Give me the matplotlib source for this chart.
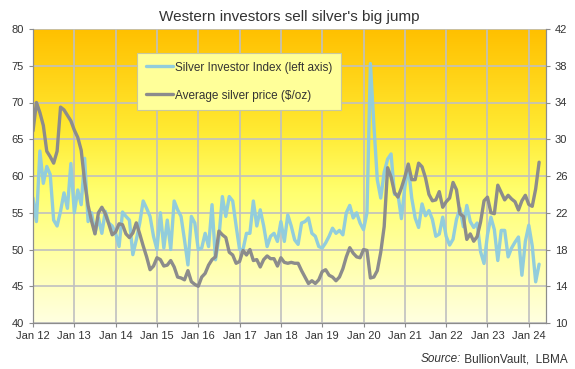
import numpy as np
import matplotlib
matplotlib.use("Agg")
import matplotlib.pyplot as plt
from matplotlib.colors import LinearSegmentedColormap

plt.rcParams['font.family'] = ['Liberation Sans', 'DejaVu Sans']

# --- Data: monthly, Jan 2012 .. Apr 2024 ---
tick_labels = ['Jan 12', 'Jan 13', 'Jan 14', 'Jan 15', 'Jan 16', 'Jan 17', 'Jan 18',
               'Jan 19', 'Jan 20', 'Jan 21', 'Jan 22', 'Jan 23', 'Jan 24']

# Silver Investor Index (left axis)
sii = [
    57.0, 53.8, 63.4, 59.0, 61.3, 60.2, 54.0, 53.2, 55.2, 57.7, 55.6, 61.7,   # 2012
    55.0, 58.1, 56.1, 62.4, 53.8, 55.0, 52.2, 54.3, 52.2, 55.2, 53.6, 53.2,   # 2013
    52.2, 50.4, 55.1, 54.5, 54.0, 49.3, 51.3, 53.6, 56.6, 55.6, 54.5, 51.8,   # 2014
    50.0, 55.0, 50.2, 54.0, 50.0, 56.6, 55.4, 54.5, 51.3, 47.9, 54.5, 53.6,   # 2015
    50.0, 50.2, 52.2, 50.4, 56.1, 48.6, 51.6, 57.2, 54.5, 57.2, 56.6, 53.2,   # 2016
    50.0, 50.0, 52.2, 52.2, 56.6, 53.2, 55.4, 53.2, 50.4, 51.8, 52.2, 51.1,   # 2017
    53.8, 51.1, 54.7, 53.2, 51.3, 50.7, 53.6, 53.8, 54.3, 52.2, 51.8, 50.4,   # 2018
    50.2, 50.9, 51.8, 52.9, 52.2, 52.6, 52.0, 55.0, 56.0, 54.3, 55.0, 53.6,   # 2019
    52.7, 55.0, 75.3, 67.0, 59.5, 57.0, 60.5, 62.3, 63.0, 57.5, 57.5, 54.2,   # 2020
    58.5, 61.3, 57.0, 54.3, 53.0, 56.2, 54.6, 55.3, 54.1, 51.8, 52.1, 54.4,   # 2021
    51.8, 50.6, 51.4, 54.1, 55.6, 53.1, 56.0, 53.8, 53.0, 53.6, 49.7, 48.1,   # 2022
    52.0, 54.4, 52.7, 48.5, 52.6, 52.6, 49.0, 50.2, 51.0, 51.7, 46.5, 51.1,   # 2023
    53.3, 50.5, 45.6, 48.0,                                                   # 2024
]

# Average silver price, $/oz (right axis)
price = [
    30.9, 34.0, 32.9, 31.5, 28.7, 28.1, 27.4, 28.7, 33.5, 33.2, 32.6, 32.0,   # 2012
    31.0, 30.2, 28.8, 25.4, 22.8, 21.1, 19.7, 22.0, 22.6, 21.9, 20.8, 19.6,   # 2013
    19.9, 20.8, 20.7, 19.7, 19.3, 19.8, 20.9, 19.7, 18.4, 17.2, 15.8, 16.2,   # 2014
    17.1, 16.9, 16.2, 16.3, 16.8, 16.1, 15.0, 14.9, 14.7, 15.7, 14.5, 14.2,   # 2015
    14.0, 15.0, 15.4, 16.3, 16.9, 17.2, 20.0, 19.6, 19.3, 17.7, 17.4, 16.5,   # 2016
    16.7, 17.9, 17.4, 18.0, 16.8, 16.9, 16.1, 16.9, 17.3, 17.0, 17.0, 16.2,   # 2017
    17.1, 16.6, 16.5, 16.6, 16.5, 16.5, 15.7, 15.0, 14.3, 14.6, 14.3, 14.7,   # 2018
    15.6, 15.8, 15.2, 15.0, 14.6, 15.0, 15.9, 17.2, 18.2, 17.6, 17.2, 17.1,   # 2019
    18.0, 17.9, 14.9, 15.0, 15.7, 17.7, 20.5, 26.9, 25.9, 24.2, 23.7, 24.7,   # 2020
    25.9, 27.3, 25.6, 25.6, 27.4, 27.0, 25.8, 24.0, 23.3, 23.4, 24.3, 22.6,   # 2021
    23.2, 23.6, 25.3, 24.5, 21.9, 21.6, 19.1, 19.7, 18.9, 19.4, 21.0, 23.3,   # 2022
    23.7, 22.0, 21.9, 25.0, 24.2, 23.4, 23.9, 23.5, 23.2, 22.3, 23.3, 23.9,   # 2023
    22.9, 22.7, 24.6, 27.5,                                                   # 2024
]

months = np.arange(len(sii))

blue = '#92CDDC'
grey = '#8C8C8C'
text_col = '#333333'

fig = plt.figure(figsize=(5.75, 3.69), dpi=100)
ax = fig.add_axes([33 / 575, 1 - 323 / 369, 513 / 575, 294 / 369])
ax2 = ax.twinx()

# gradient background of the plot area
grad = LinearSegmentedColormap.from_list('bg', [
    (0.0, (1.0, 0.753, 0.0)),
    (0.35, (1.0, 0.92, 0.2)),
    (0.55, (1.0, 1.0, 0.43)),
    (1.0, (1.0, 1.0, 0.88)),
])
ax.imshow(np.linspace(0, 1, 256).reshape(-1, 1), cmap=grad, aspect='auto',
          extent=[0, 1, 0, 1], transform=ax.transAxes, zorder=0)

ax.plot(months, sii, color=blue, lw=2.4, solid_capstyle='round', zorder=3,
        label='Silver Investor Index (left axis)')
ax2.plot(months, price, color=grey, lw=2.4, solid_capstyle='round', zorder=3,
         label='Average silver price ($/oz)')

ax.set_xlim(0, 149)
ax.set_ylim(40, 80)
ax2.set_ylim(10, 42)
ax.set_xticks(np.arange(0, 145, 12))
ax.set_xticklabels(tick_labels)
ax.set_yticks(np.arange(40, 81, 5))
ax2.set_yticks(np.arange(10, 43, 4))

ax.set_axisbelow(True)
ax.grid(True, color='#C0C0C0', lw=1.2)
ax2.patch.set_visible(False)

for a in (ax, ax2):
    for s in a.spines.values():
        s.set_color('#8C8C8C')
    a.spines['top'].set_visible(False)
    a.tick_params(colors='#8C8C8C', labelcolor=text_col, labelsize=8, length=3, width=0.8)
ax.tick_params(axis='x', pad=3)

ax.set_title("Western investors sell silver's big jump", fontsize=11, color=text_col, pad=6)

h1, l1 = ax.get_legend_handles_labels()
h2, l2 = ax2.get_legend_handles_labels()
leg = ax2.legend(h1 + h2, l1 + l2, loc='upper left',
                 bbox_to_anchor=(137.3 / 575, 1 - 53.3 / 369), bbox_transform=fig.transFigure,
                 borderaxespad=0, fontsize=8.5, handlelength=2.35, handletextpad=0.15,
                 labelspacing=1.35, borderpad=0.7, fancybox=False, framealpha=1)
leg.get_frame().set_facecolor('#FFFF99')
leg.get_frame().set_edgecolor('#C8C8A0')
leg.get_frame().set_linewidth(0.8)
for t in leg.get_texts():
    t.set_color(text_col)

src = fig.text(568 / 575, 1 - 362 / 369, ' BullionVault,  LBMA', ha='right', va='baseline',
               fontsize=8.5, color=text_col)
ax.annotate('Source:', xy=(0, 0), xycoords=src, ha='right', va='bottom',
            fontsize=8.5, fontstyle='italic', color=text_col, annotation_clip=False)

fig.savefig('out.png', dpi=100)
